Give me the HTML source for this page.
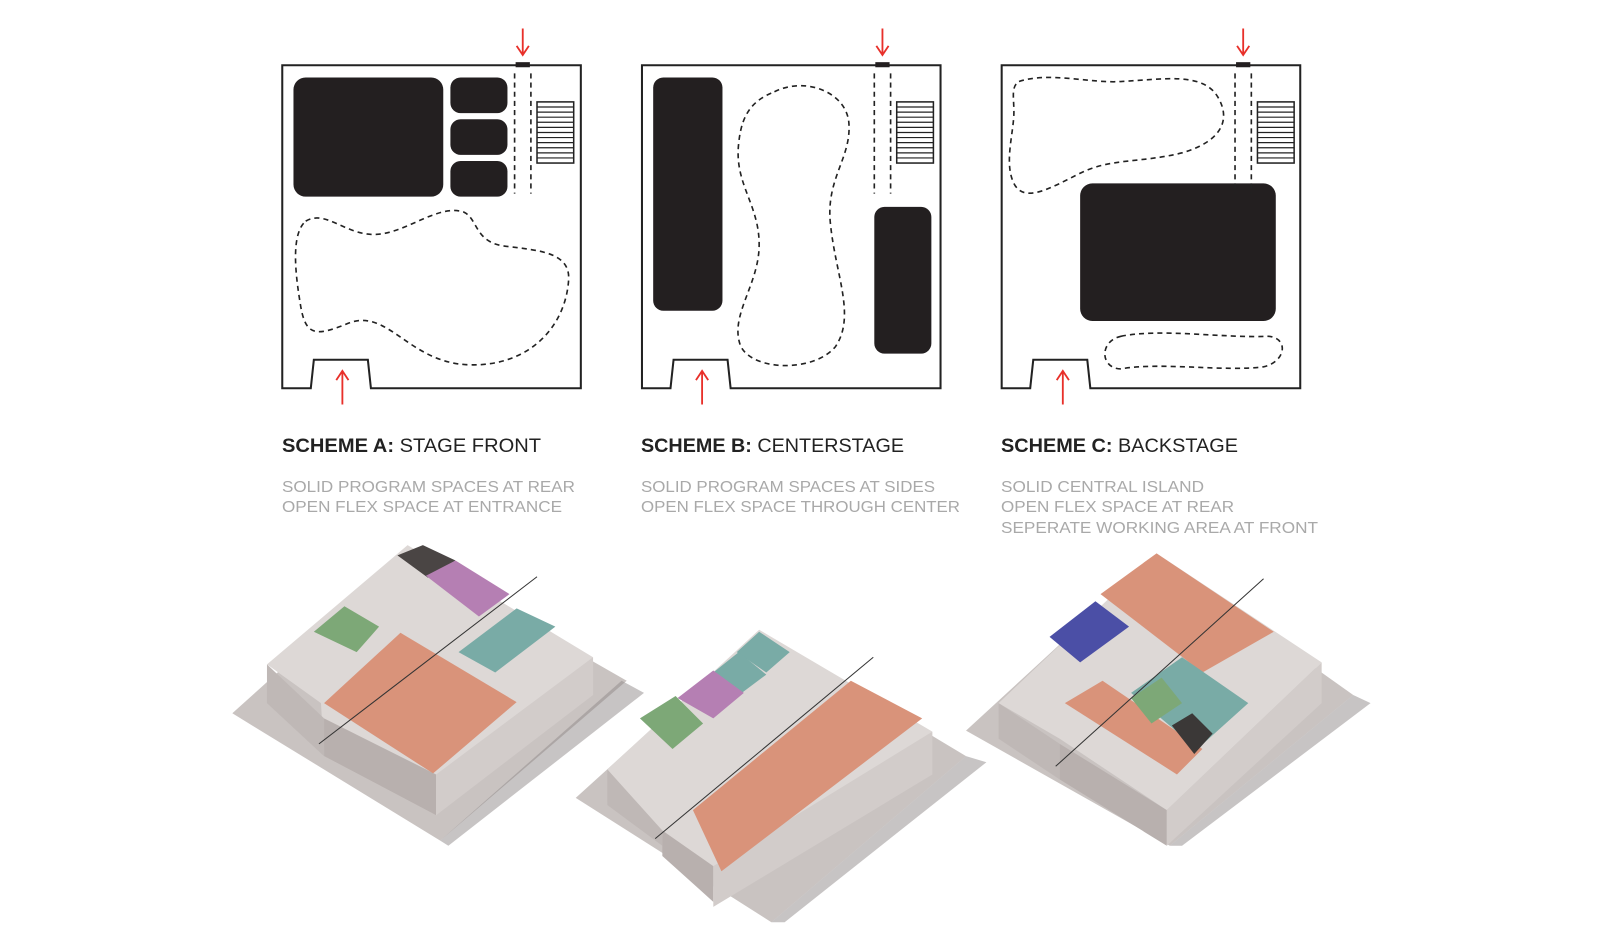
<!DOCTYPE html>
<html><head><meta charset="utf-8"><style>
html,body{margin:0;padding:0;background:#fff;width:1600px;height:938px;overflow:hidden}
svg{display:block}
.h{font-family:"Liberation Sans",sans-serif;font-size:19px;fill:#222}
.s{font-family:"Liberation Sans",sans-serif;font-size:16px;fill:#a9a9a9}
</style></head><body>
<svg width="1600" height="938" viewBox="0 0 1600 938" xmlns="http://www.w3.org/2000/svg">
<defs>
<g id="stair">
<rect x="0" y="0" width="36" height="60" fill="#fff" stroke="#222" stroke-width="1.5"/>
<path d="M0,5h36M0,10h36M0,15h36M0,20h36M0,25h36M0,30h36M0,35h36M0,40h36M0,45h36M0,50h36M0,55h36" stroke="#222" stroke-width="1.2"/>
</g>
</defs>
<g transform="scale(1.019)">
<g fill="none" stroke="#222" stroke-width="2">
<path d="M277,64 H570 V381 H364 L361,353 H308 L305,381 H277 Z"/>
<path d="M630,64 H923 V381 H717 L714,353 H661 L658,381 H630 Z"/>
<path d="M983,64 H1276 V381 H1070 L1067,353 H1014 L1011,381 H983 Z"/>
</g>
<g fill="#231f20">
<rect x="506" y="61" width="14" height="5"/><rect x="859" y="61" width="14" height="5"/><rect x="1213" y="61" width="14" height="5"/>
<rect x="288" y="76" width="147" height="117" rx="12"/>
<rect x="442" y="76" width="56" height="35" rx="10"/>
<rect x="442" y="117" width="56" height="35" rx="10"/>
<rect x="442" y="158" width="56" height="35" rx="10"/>
<rect x="641" y="76" width="68" height="229" rx="10"/>
<rect x="858" y="203" width="56" height="144" rx="10"/>
<rect x="1060" y="180" width="192" height="135" rx="12"/>
</g>
<g stroke="#222" stroke-width="1.6" stroke-dasharray="5,4" fill="none">
<path d="M505,72V190M521,72V190M858,72V190M874,72V190M1212,72V190M1228,72V190"/>
<path d="M300,217 C320,205 340,232 370,230 C400,228 430,200 455,208 C470,215 465,240 500,242 C530,246 560,248 558,275 C555,320 520,360 460,358 C400,356 380,300 340,318 C310,330 300,330 295,300 C290,270 285,230 300,217 Z"/>
<path d="M760,90 C790,75 830,90 833,120 C836,155 810,175 815,220 C820,270 840,310 820,340 C800,365 740,365 727,340 C715,310 745,280 745,240 C745,200 720,180 725,140 C728,110 740,98 760,90 Z"/>
<path d="M1000,80 C1030,70 1070,82 1100,80 C1140,78 1180,70 1195,95 C1210,120 1195,140 1160,150 C1120,160 1090,155 1060,170 C1030,185 1005,200 995,180 C985,160 995,130 995,110 C995,95 992,85 1000,80 Z"/>
<path d="M1100,330 C1140,322 1200,332 1245,330 C1265,332 1262,355 1240,360 C1200,365 1140,355 1100,362 C1080,362 1078,335 1100,330 Z"/>
</g>
<use href="#stair" x="527" y="100"/><use href="#stair" x="880" y="100"/><use href="#stair" x="1234" y="100"/>
<g stroke="#e8302a" stroke-width="1.8" fill="none">
<path d="M513,28V54M507,45L513,54L519,45"/>
<path d="M866,28V54M860,45L866,54L872,45"/>
<path d="M1220,28V54M1214,45L1220,54L1226,45"/>
<path d="M336,397V364M330,373L336,364L342,373"/>
<path d="M689,397V364M683,373L689,364L695,373"/>
<path d="M1043,397V364M1037,373L1043,364L1049,373"/>
</g>

<!-- ISO A -->
<g>
<polygon points="228,700 400,545 615,668 432,825" fill="#c9c3c1"/>
<polygon points="610,668 432,825 440,830 632,680" fill="#8f8a89" opacity=".5"/>
<polygon points="262,652 400,535 582,645 428,800 318,742 315,690" fill="#ddd8d6"/>
<polygon points="262,652 262,690 318,742 318,705" fill="#bfb8b6"/>
<polygon points="318,705 428,760 428,800 318,742" fill="#b8b0ae"/>
<polygon points="428,760 582,645 582,682 428,800" fill="#d2ccca"/>
<polygon points="390,545 415,535 447,550 420,567" fill="#4a4544"/>
<polygon points="418,565 447,550 500,583 470,605" fill="#b57fb3"/>
<polygon points="308,620 338,595 372,615 350,640" fill="#7da877"/>
<polygon points="450,640 507,597 545,615 486,660" fill="#79aba6"/>
<polygon points="318,690 393,621 507,689 425,759" fill="#d9937a"/>
<line x1="313" y1="730" x2="527" y2="566" stroke="#333" stroke-width="1"/>
</g>
<!-- ISO B -->
<g>
<polygon points="565,783 745,620 948,742 757,905" fill="#c9c3c1"/>
<polygon points="948,742 757,905 770,905 968,748" fill="#8f8a89" opacity=".5"/>
<polygon points="596,755 745,618 915,718 700,870 650,820" fill="#ddd8d6"/>
<polygon points="596,755 596,790 650,830 650,815" fill="#bfb8b6"/>
<polygon points="650,815 700,850 700,885 650,840" fill="#b8b0ae"/>
<polygon points="700,850 915,718 915,760 700,890" fill="#d2ccca"/>
<polygon points="723,640 745,620 775,640 752,660" fill="#79aba6"/>
<polygon points="700,660 725,640 752,662 728,680" fill="#79aba6"/>
<polygon points="665,685 700,658 730,680 700,705" fill="#b57fb3"/>
<polygon points="628,705 663,683 690,710 660,735" fill="#7da877"/>
<polygon points="680,795 835,668 905,705 708,855" fill="#d9937a"/>
<line x1="643" y1="823" x2="857" y2="645" stroke="#333" stroke-width="1"/>
</g>
<!-- ISO C -->
<g>
<polygon points="948,717 1135,545 1328,682 1148,830" fill="#c9c3c1"/>
<polygon points="1328,682 1148,830 1160,830 1345,690" fill="#8f8a89" opacity=".5"/>
<polygon points="980,690 1135,543 1297,650 1145,795 1040,725" fill="#ddd8d6"/>
<polygon points="980,690 980,725 1040,765 1040,730" fill="#bfb8b6"/>
<polygon points="1040,730 1145,795 1145,830 1040,765" fill="#b8b0ae"/>
<polygon points="1145,795 1297,650 1297,690 1145,830" fill="#d2ccca"/>
<polygon points="1080,583 1135,543 1250,620 1180,660" fill="#d9937a"/>
<polygon points="1030,625 1075,590 1108,615 1060,650" fill="#4b4fa6"/>
<polygon points="1045,690 1082,668 1180,735 1155,760" fill="#d9937a"/>
<polygon points="1110,680 1160,645 1225,690 1175,735" fill="#79aba6"/>
<polygon points="1110,685 1140,665 1160,690 1130,710" fill="#7da877"/>
<polygon points="1150,712 1170,700 1190,720 1172,740" fill="#3b3837"/>
<line x1="1036" y1="752" x2="1240" y2="568" stroke="#333" stroke-width="1"/>
</g>
</g>
<text class="h" x="282" y="452" textLength="259" lengthAdjust="spacingAndGlyphs"><tspan font-weight="bold">SCHEME A:</tspan> STAGE FRONT</text>
<text class="h" x="641" y="452" textLength="263" lengthAdjust="spacingAndGlyphs"><tspan font-weight="bold">SCHEME B:</tspan> CENTERSTAGE</text>
<text class="h" x="1001" y="452" textLength="237" lengthAdjust="spacingAndGlyphs"><tspan font-weight="bold">SCHEME C:</tspan> BACKSTAGE</text>
<g class="s">
<text x="282" y="492" textLength="293" lengthAdjust="spacingAndGlyphs">SOLID PROGRAM SPACES AT REAR</text>
<text x="282" y="512" textLength="280" lengthAdjust="spacingAndGlyphs">OPEN FLEX SPACE AT ENTRANCE</text>
<text x="641" y="492" textLength="294" lengthAdjust="spacingAndGlyphs">SOLID PROGRAM SPACES AT SIDES</text>
<text x="641" y="512" textLength="319" lengthAdjust="spacingAndGlyphs">OPEN FLEX SPACE THROUGH CENTER</text>
<text x="1001" y="492" textLength="203" lengthAdjust="spacingAndGlyphs">SOLID CENTRAL ISLAND</text>
<text x="1001" y="512" textLength="233" lengthAdjust="spacingAndGlyphs">OPEN FLEX SPACE AT REAR</text>
<text x="1001" y="533" textLength="317" lengthAdjust="spacingAndGlyphs">SEPERATE WORKING AREA AT FRONT</text>
</g>
</svg>
</body></html>
